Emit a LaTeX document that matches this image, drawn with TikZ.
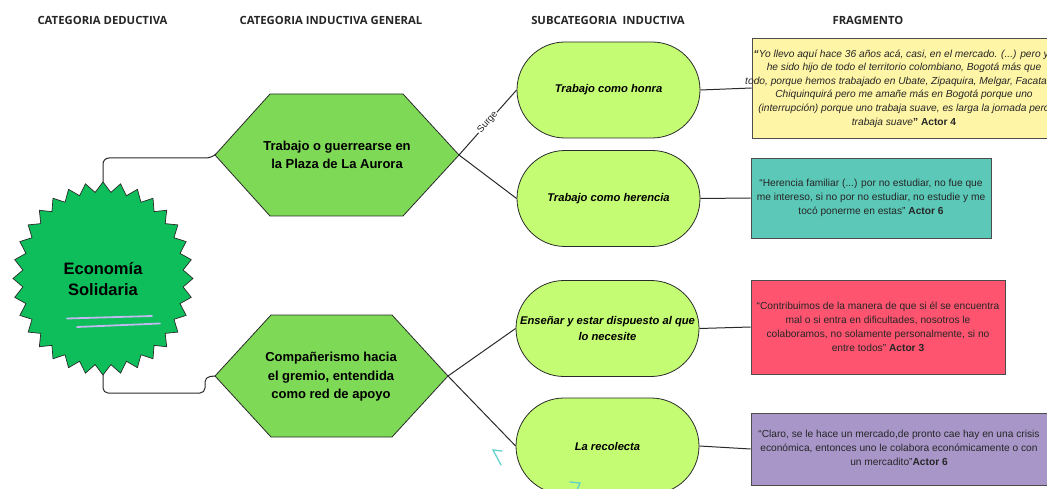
\documentclass[tikz,border=0pt]{standalone}
\usepackage{fontspec}
\setmainfont{Liberation Sans}
\newfontfamily\hdrfont{Open Sans}
\usetikzlibrary{shapes.geometric,shapes.misc}
\definecolor{starg}{HTML}{0DBE5A}
\definecolor{hexg}{HTML}{7ED957}
\definecolor{stadg}{HTML}{C4FC74}
\definecolor{boxyel}{HTML}{FFF5A6}
\definecolor{boxteal}{HTML}{5BC8B8}
\definecolor{boxred}{HTML}{FF5470}
\definecolor{boxlav}{HTML}{A896C9}
\definecolor{lavline}{HTML}{C2B8F2}
\definecolor{cyanmark}{HTML}{5FD3D0}
\definecolor{linec}{HTML}{2A2A2A}
\tikzset{
  hdr/.style={font=\hdrfont\bfseries\fontsize{11.3}{13}\selectfont, text=black!85},
  conn/.style={draw=linec, line width=1pt},
  hexshape/.style={fill=hexg, draw=linec, line width=0.8pt},
  hextext/.style={align=center, font=\bfseries\fontsize{13}{18.5}\selectfont},
  stadium/.style={rounded rectangle, fill=stadg, draw=linec, line width=0.8pt,
    minimum width=183pt, minimum height=96pt, inner sep=0pt, align=center,
    font=\bfseries\itshape\fontsize{11.2}{15.5}\selectfont},
  fragbox/.style={rectangle, draw=black!70, line width=0.8pt, inner sep=0pt},
  fragtext/.style={align=center, font=\fontsize{10.2}{14}\selectfont, text=black!85, inner sep=0pt},
}
\begin{document}
\begin{tikzpicture}[x=1pt,y=-1pt]
\useasboundingbox (0,0) rectangle (1047,489);
\clip (0,0) rectangle (1047,489);

% headers
\node[hdr] (hd1) at (102.5,20.5) {CATEGORIA DEDUCTIVA};
\node[hdr] (hd2) at (331,20.5) {CATEGORIA INDUCTIVA GENERAL};
\node[hdr] (hd3) at (608,20.5) {SUBCATEGORIA\ \ INDUCTIVA};
\node[hdr] (hd4) at (868,20.5) {FRAGMENTO};

% starburst
\filldraw[fill=starg, draw=linec, line width=0.7pt]
  plot[domain=0:63, samples=64, variable=\k]
  ({103 + (90 - 9.5*mod(round(\k),2))*cos(90+5.625*\k)},
   {278.5 - (96.5 - 10*mod(round(\k),2))*sin(90+5.625*\k)}) -- cycle;
\coordinate (esn) at (103,182);
\coordinate (ess) at (103,375);
\node[align=center, font=\bfseries\fontsize{16.5}{21}\selectfont] (es) at (103,279) {Economía\\Solidaria};
\draw[lavline, line width=1.8pt, line cap=round] (67,318.5) -- (152,316);
\draw[lavline, line width=1.8pt, line cap=round] (77,327) -- (160,323.5);

% hexagons
\path[hexshape] (215,155) coordinate (h1w) -- (270,94) -- (403,94) -- (459,155) coordinate (h1e) -- (403,216) -- (270,216) -- cycle;
\node[hextext] (h1) at (337,155) {Trabajo o guerrearse en\\la Plaza de La Aurora};
\path[hexshape] (215,376) coordinate (h2w) -- (271,315) -- (392,315) -- (448,376) coordinate (h2e) -- (392,437) -- (271,437) -- cycle;
\node[hextext] (h2) at (331,377) {Compañerismo hacia\\el gremio, entendida\\como red de apoyo};

% stadiums
\node[stadium] (s1) at (608.5,90) {Trabajo como honra};
\node[stadium] (s2) at (608.5,198.5) {Trabajo como herencia};
\node[stadium] (s3) at (607.5,328.5) {Enseñar y estar dispuesto al que\\lo necesite};
\node[stadium] (s4) at (607.5,446) {La recolecta};

% fragment boxes
\node[fragbox, fill=boxyel, minimum width=303pt, minimum height=100pt] (b1) at (903.5,88) {};
\node[fragtext, font=\itshape\fontsize{10.2}{13.6}\selectfont] (b1t) at (904,88.5)
  {\textbf{“}Yo llevo aquí hace 36 años acá, casi, en el mercado. (...) pero yo\\
   he sido hijo de todo el territorio colombiano, Bogotá más que\\
   todo, porque hemos trabajado en Ubate, Zipaquira, Melgar, Facatativá\\
   Chiquinquirá pero me amañe más en Bogotá porque uno\\
   (interrupción) porque uno trabaja suave, es larga la jornada pero\\
   trabaja suave\textbf{\upshape” Actor 4}};
\node[fragbox, fill=boxteal, minimum width=240pt, minimum height=80pt] (b2) at (871,198) {};
\node[fragtext] (b2t) at (b2.center)
  {“Herencia familiar (...) por no estudiar, no fue que\\
   me intereso, si no por no estudiar, no estudie y me\\
   tocó ponerme en estas” \textbf{Actor 6}};
\node[fragbox, fill=boxred, minimum width=254pt, minimum height=94pt] (b3) at (878,327) {};
\node[fragtext] (b3t) at (b3.center)
  {“Contribuimos de la manera de que si él se encuentra\\
   mal o si entra en dificultades, nosotros le\\
   colaboramos, no solamente personalmente, si no\\
   entre todos” \textbf{Actor 3}};
\node[fragbox, fill=boxlav, minimum width=296pt, minimum height=72pt] (b4) at (899,449) {};
\node[fragtext] (b4t) at (899,447.5)
  {“Claro, se le hace un mercado,de pronto cae hay en una crisis\\
   económica, entonces uno le colabora económicamente o con\\
   un mercadito”\textbf{Actor 6}};

% connectors
\draw[conn, rounded corners=6] (esn) -- (103,158) -- (212,158) -- (h1w);
\draw[conn, rounded corners=5] (ess) -- (103,393) -- (205,393) -- (205,377) -- (h2w);
\draw[conn] (h1e) -- node[sloped, fill=white, inner sep=1pt, font=\fontsize{9.5}{11}\selectfont, text=black!85] {Surge} (s1.west);
\draw[conn] (h1e) -- (s2.west);
\draw[conn] (h2e) -- (s3.west);
\draw[conn] (h2e) -- (s4.west);
\draw[conn] (s1.east) -- (b1.west);
\draw[conn] (s2.east) -- (b2.west);
\draw[conn] (s3.east) -- (b3.west);
\draw[conn] (s4.east) -- (b4.west);

% small cyan marks
\draw[cyanmark, line width=1.3pt, line cap=round] (502,451) -- (493,450) -- (501,465);
\draw[cyanmark, line width=1.3pt, line cap=round] (570,482) -- (580,483) -- (577,490);
\end{tikzpicture}
\end{document}
